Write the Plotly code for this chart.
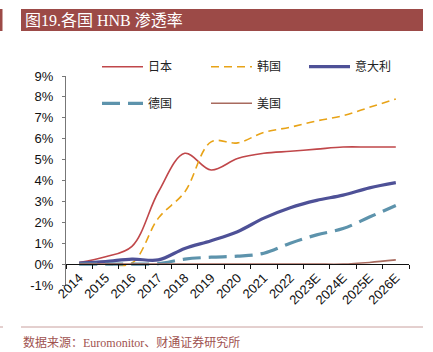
import plotly.graph_objects as go

years = ["2014", "2015", "2016", "2017", "2018", "2019", "2020", "2021", "2022",
         "2023E", "2024E", "2025E", "2026E"]
japan = [0.08, 0.35, 0.85, 3.45, 5.3, 4.5, 5.05, 5.3, 5.4, 5.5, 5.6, 5.6, 5.6]
korea = [0.0, 0.0, 0.05, 2.2, 3.45, 5.85, 5.8, 6.3, 6.55, 6.85, 7.1, 7.5, 7.9]
italy = [0.05, 0.12, 0.24, 0.2, 0.75, 1.12, 1.55, 2.2, 2.7, 3.05, 3.3, 3.65, 3.9]
germany = [0.0, 0.0, 0.0, 0.02, 0.24, 0.33, 0.38, 0.52, 1.0, 1.4, 1.7, 2.25, 2.8]
usa = [0.0, 0.0, 0.0, 0.0, 0.0, 0.0, 0.0, 0.0, 0.0, 0.0, 0.0, 0.08, 0.2]
y_ticks = list(range(-1, 10))
y_tick_text = [f"{v}%" for v in y_ticks]

W, H = 433, 352
L, R, T, B = 66, 24, 76, 67
PW, PH = W - L - R, H - T - B


def px(x):
    return (x - L) / PW


def py(y):
    return (H - B - y) / PH


fig = go.Figure()
series = [
    ("日本", japan, "#C0474A", 1.6, "solid", "legend"),
    ("韩国", korea, "#E8A317", 1.6, "8px,5px", "legend"),
    ("意大利", italy, "#4E5197", 3.2, "solid", "legend3"),
    ("德国", germany, "#5D93AC", 3.2, "18px,8px", "legend2"),
    ("美国", usa, "#A86A5E", 1.6, "solid", "legend2"),
]
for name, vals, color, width, dash, leg in series:
    fig.add_trace(go.Scatter(
        x=years, y=vals, name=name, mode="lines",
        line=dict(color=color, width=width, dash=dash, shape="spline", smoothing=1),
        legend=leg, hoverinfo="skip",
    ))

leg_font = dict(family="Noto Sans CJK SC", size=12, color="#222")
leg_common = dict(orientation="h", xanchor="left", yanchor="middle",
                  entrywidth=53, entrywidthmode="pixels", itemwidth=41,
                  font=leg_font, bgcolor="rgba(0,0,0,0)", traceorder="normal")
fig.update_layout(
    width=W, height=H,
    margin=dict(l=L, r=R, t=T, b=B),
    paper_bgcolor="white", plot_bgcolor="white",
    font=dict(family="Liberation Sans, Arial", size=13, color="#111"),
    legend=dict(x=px(97), y=py(66.7), **leg_common),
    legend3=dict(x=px(97 + 207), y=py(66.7), **leg_common),
    legend2=dict(x=px(97), y=py(103.3), **leg_common),
    xaxis=dict(type="category", range=[-0.5, 12.5], tickson="boundaries",
               anchor="free", position=0.1, showline=True, linecolor="#111",
               linewidth=1, ticks="outside", ticklen=4, tickcolor="#111",
               tickangle=-45, showgrid=False, zeroline=False,
               tickfont=dict(family="Liberation Sans, Arial", size=13, color="#111")),
    yaxis=dict(range=[-1, 9], tickvals=y_ticks, ticktext=y_tick_text,
               showline=True, linecolor="#777", linewidth=1, ticks="outside",
               ticklen=3, tickcolor="#777", ticklabelstandoff=6,
               showgrid=False, zeroline=False,
               tickfont=dict(family="Liberation Sans, Arial", size=13, color="#111")),
    shapes=[
        dict(type="rect", xref="paper", yref="paper", x0=px(21), x1=px(423),
             y0=py(31), y1=py(9), fillcolor="#9C4A47", line=dict(width=0), layer="below"),
        dict(type="rect", xref="paper", yref="paper", x0=px(0), x1=px(2.5),
             y0=py(31), y1=py(9), fillcolor="#9C4A47", line=dict(width=0), layer="below"),
        dict(type="line", xref="paper", yref="paper", x0=px(21), x1=px(423),
             y0=py(327), y1=py(327), line=dict(color="#C9A09E", width=1)),
        dict(type="line", xref="paper", yref="paper", x0=px(0), x1=px(3),
             y0=py(327), y1=py(327), line=dict(color="#C9A09E", width=1)),
    ],
    annotations=[
        dict(text="图19.各国 HNB 渗透率", xref="paper", yref="paper", x=px(23), y=py(20.5),
             xanchor="left", yanchor="middle", showarrow=False,
             font=dict(family="Liberation Serif, Noto Sans CJK SC", size=16, color="white")),
        dict(text="数据来源：Euromonitor、财通证券研究所", xref="paper", yref="paper",
             x=px(21), y=py(342), xanchor="left", yanchor="middle", showarrow=False,
             font=dict(family="Liberation Serif, Noto Sans CJK SC", size=12, color="#A0524F")),
    ],
)

fig.write_html("out.html")
